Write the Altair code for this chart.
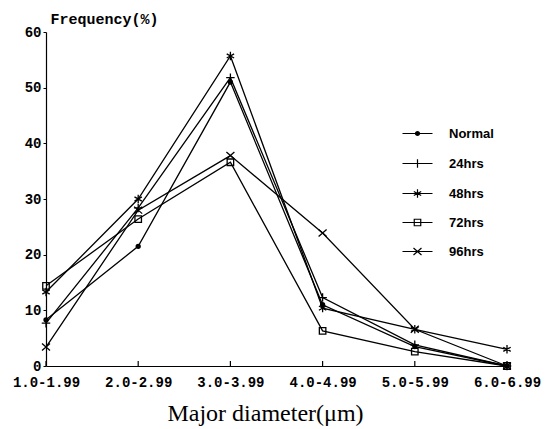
import altair as alt
import pandas as pd

cats = ["1.0-1.99", "2.0-2.99", "3.0-3.99", "4.0-4.99", "5.0-5.99", "6.0-6.99"]
series = ["Normal", "24hrs", "48hrs", "72hrs", "96hrs"]
normal = [8.3, 21.5, 51.0, 11.0, 3.5, 0.0]
h24 = [7.7, 28.4, 51.8, 12.3, 3.8, 0.0]
h48 = [13.3, 30.0, 55.7, 10.4, 6.6, 3.0]
h72 = [14.4, 26.4, 36.6, 6.3, 2.6, 0.0]
h96 = [3.4, 28.0, 37.8, 23.9, 6.6, 0.0]
y_ticks = [0, 10, 20, 30, 40, 50, 60]

vals = [normal, h24, h48, h72, h96]
rows = []
for s, v in zip(series, vals):
    for c, y in zip(cats, v):
        rows.append({"cat": c, "series": s, "freq": y})
df = pd.DataFrame(rows)
ticks_df = pd.DataFrame({"cat": cats})

# marker shapes (unit path coordinates)
dot = ("M0.4,0A0.4,0.4 0 1,1 -0.4,0A0.4,0.4 0 1,1 0.4,0Z"
       "M0.2,0A0.2,0.2 0 1,1 -0.2,0A0.2,0.2 0 1,1 0.2,0Z")
plus = "M0,-0.85L0,0.85M-0.85,0L0.85,0"
star = "M0,-0.85L0,0.85M-0.74,-0.42L0.74,0.42M-0.74,0.42L0.74,-0.42M-0.3,0L0.3,0"
square = "M-0.65,-0.65L0.65,-0.65L0.65,0.65L-0.65,0.65Z"
xmark = "M-0.8,-0.7L0.8,0.7M-0.8,0.7L0.8,-0.7"
marks = [dot, plus, star, square, xmark]
hline = "M-3,0L3,0"
legend_marks = [hline + m for m in marks]

x_scale = alt.Scale(domain=cats, type="point", padding=0)
x_enc = alt.X("cat:O", sort=cats, scale=x_scale,
              axis=alt.Axis(title="Major diameter(\u03bcm)", labelAngle=0, ticks=False,
                            labelFont="Liberation Mono", labelFontWeight="bold",
                            labelFontSize=14, labelColor="black", labelPadding=9,
                            domainColor="black", domainWidth=1.2,
                            titleFont="Liberation Serif", titleFontWeight="normal",
                            titleFontSize=24, titleColor="black",
                            titleX=219, titleY=54, titleBaseline="alphabetic"))
x_plain = alt.X("cat:O", sort=cats, scale=x_scale)
y_enc = alt.Y("freq:Q", scale=alt.Scale(domain=[0, 60], nice=False),
              axis=alt.Axis(title="Frequency(%)", values=y_ticks, grid=False,
                            tickSize=3, tickColor="black", labelPadding=2,
                            labelFont="Liberation Mono", labelFontWeight="bold",
                            labelFontSize=14, labelColor="black",
                            domainColor="black", domainWidth=1.2,
                            titleFont="Liberation Mono", titleFontWeight="bold",
                            titleFontSize=15, titleColor="black", titleAngle=0,
                            titleAlign="left", titleBaseline="alphabetic",
                            titleX=4, titleY=-9))

lines = alt.Chart(df).mark_line(color="black", strokeWidth=1.3).encode(
    x=x_enc, y=y_enc, detail="series:N")

points = alt.Chart(df).mark_point(filled=False, color="black", strokeWidth=1.3,
                                  size=100, opacity=1).encode(
    x=x_plain,
    y="freq:Q",
    shape=alt.Shape("series:N", scale=alt.Scale(domain=series, range=marks), legend=None))

legend_layer = alt.Chart(df).mark_point(filled=False, color="black", opacity=0,
                                        size=100).encode(
    x=x_plain,
    y="freq:Q",
    shape=alt.Shape("series:N", scale=alt.Scale(domain=series, range=legend_marks),
                    legend=alt.Legend(orient="none", legendX=365, legendY=95, title=None,
                                      labelFont="Liberation Sans", labelFontWeight="bold",
                                      labelFontSize=13, labelColor="black",
                                      symbolSize=100, symbolStrokeWidth=1.2,
                                      symbolStrokeColor="black", symbolOpacity=1,
                                      symbolFillColor="transparent",
                                      rowPadding=15, labelOffset=25, padding=0)))

xticks = alt.Chart(ticks_df).mark_rule(color="black", strokeWidth=1.2).encode(
    x=x_plain,
    y=alt.datum(0),
    y2=alt.datum(0.9))

chart = alt.layer(lines, xticks, points, legend_layer).resolve_scale(
    shape="independent"
).properties(
    width=461, height=334,
    autosize=alt.AutoSizeParams(type="none"),
    padding={"left": 38, "top": 24, "right": 38, "bottom": 62},
    background="white"
).configure_view(stroke=None)

chart.save("out.html", embed_options={"renderer": "svg", "actions": False})
